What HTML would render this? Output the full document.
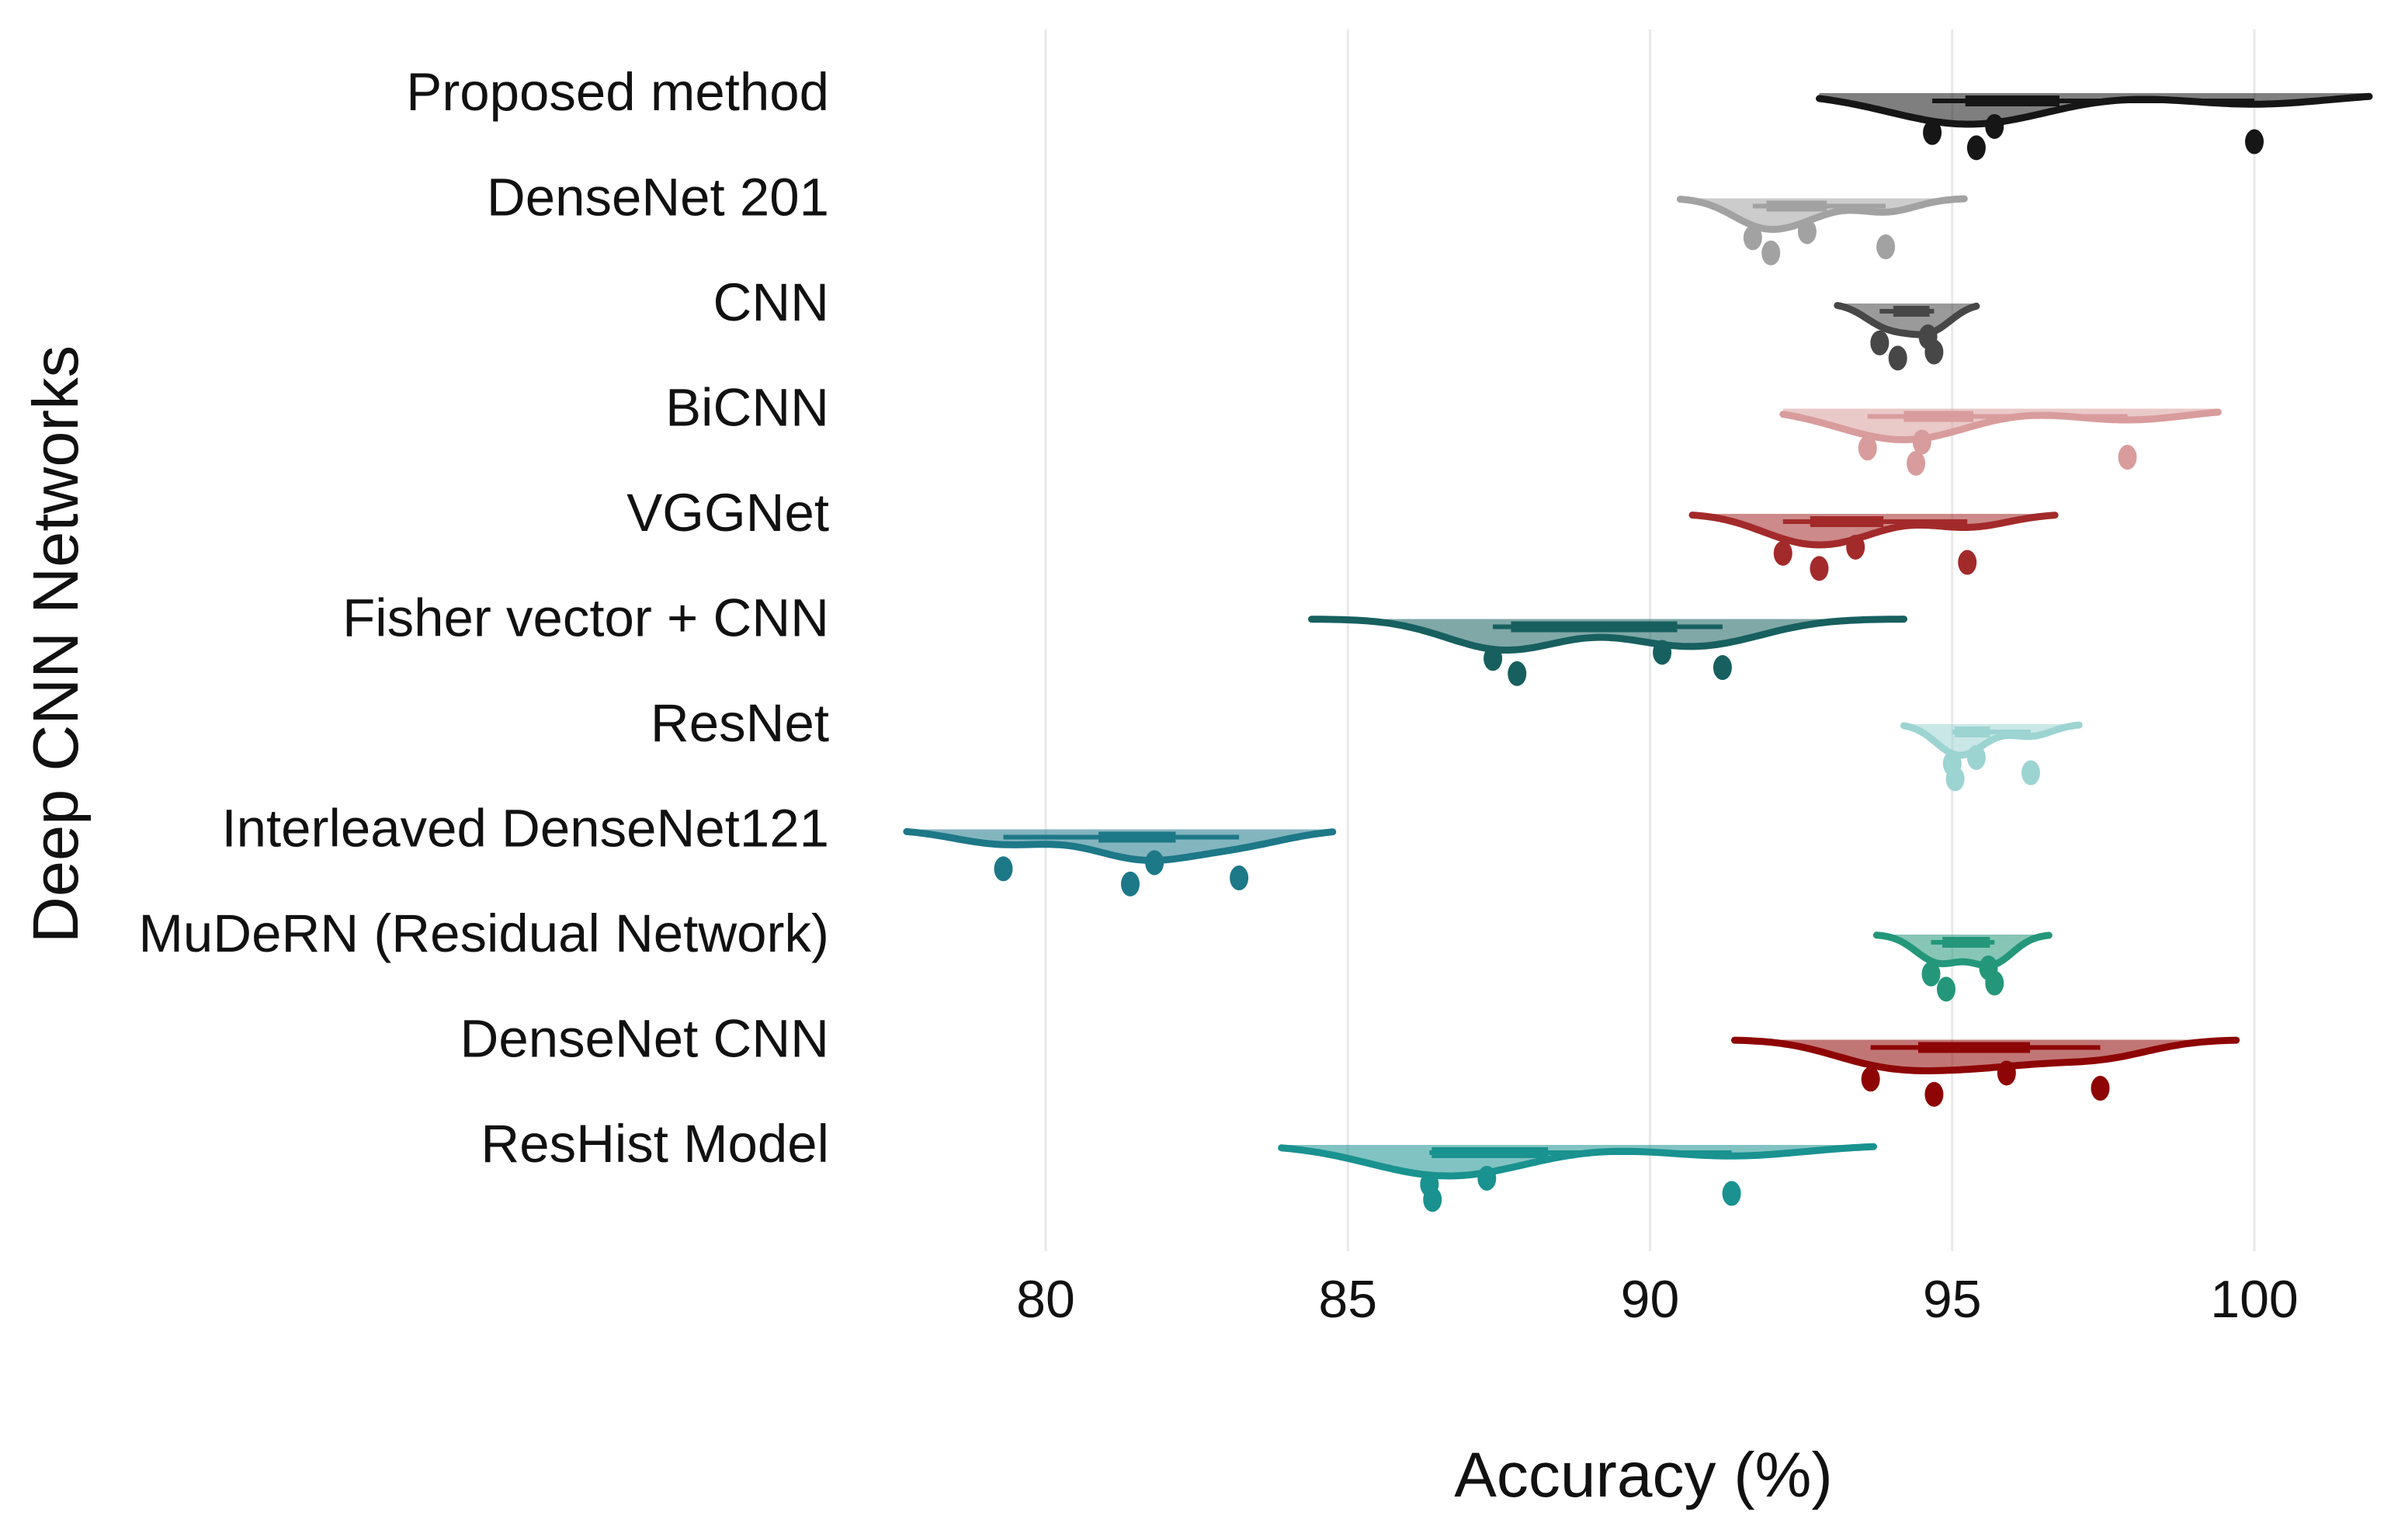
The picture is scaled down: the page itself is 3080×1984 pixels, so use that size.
<!DOCTYPE html>
<html><head><meta charset="utf-8"><style>
html,body{margin:0;padding:0;background:#fff}
svg{display:block}
text{font-family:"Liberation Sans",sans-serif;fill:#111}
</style></head><body>
<svg id="chart" width="3080" height="1984" viewBox="0 0 3080 1984" xmlns="http://www.w3.org/2000/svg">
<g id="grid"></g>
<g id="rows"></g>
<g id="ticks"></g>
<text x="2117" y="1928" font-size="82" text-anchor="middle">Accuracy (%)</text>
<text transform="translate(100,830) rotate(-90)" font-size="83" text-anchor="middle">Deep CNN Networks</text>
</svg>
<script>
const categories = ["Proposed method","DenseNet 201","CNN","BiCNN","VGGNet","Fisher vector + CNN","ResNet","Interleaved DenseNet121","MuDeRN (Residual Network)","DenseNet CNN","ResHist Model"];
const accuracyValues = [
  [94.67,95.4,95.7,100.0],
  [91.7,92.0,92.6,93.9],
  [93.8,94.1,94.6,94.7],
  [93.6,94.4,94.5,97.9],
  [92.2,92.8,93.4,95.25],
  [87.4,87.8,90.2,91.2],
  [95.0,95.05,95.4,96.3],
  [79.3,81.4,81.8,83.2],
  [94.65,94.9,95.6,95.7],
  [93.65,94.7,95.9,97.45],
  [86.35,86.4,87.3,91.35]
];
const densityMin = [92.8,90.5,93.1,92.2,90.7,84.4,94.2,77.7,93.75,91.4,83.9];
const densityMax = [101.9,95.2,95.4,99.4,96.7,94.2,97.1,84.75,96.6,99.7,93.7];
const colors = ["#161616","#a2a2a2","#474747","#d99c9c","#a32a2a","#17605f","#9cd4d2","#1d7888","#24977a","#8e0505","#199290"];
const tickValues = [80,85,90,95,100];
const tickLabels = ["80","85","90","95","100"];

const NS="http://www.w3.org/2000/svg";
const xScale = v => 1347 + (v-80)*77.85;
const rowY = i => 120 + i*135.5;
function mk(tag,attrs,parent){const e=document.createElementNS(NS,tag);for(const k in attrs)e.setAttribute(k,attrs[k]);parent.appendChild(e);return e;}
const grid=document.getElementById('grid'), rows=document.getElementById('rows'), ticks=document.getElementById('ticks');

tickValues.forEach((t,i)=>{
  const l=mk('line',{x1:xScale(t),x2:xScale(t),y1:38,y2:1612,stroke:'#e9e9e9','stroke-width':3},grid);
  
  
  const tx=mk('text',{x:xScale(t),y:1697,'font-size':68,'text-anchor':'middle'},ticks);
  tx.textContent=tickLabels[i];
  
  
});

const jitter=[30,40,26,36];
categories.forEach((cat,i)=>{
  const vals=accuracyValues[i], col=colors[i], y0=rowY(i);
  const g=mk('g',{},rows);
  
  
  const lab=mk('text',{x:1068,y:y0+22,'font-size':69,'text-anchor':'end'},g);
  lab.textContent=cat;
  
  
  const n=vals.length, mean=vals.reduce((a,b)=>a+b,0)/n;
  const sd=Math.sqrt(vals.reduce((a,b)=>a+(b-mean)*(b-mean),0)/(n-1));
  const s=[...vals].sort((a,b)=>a-b);
  const bw=Math.max(0.35,0.9*sd*Math.pow(n,-0.2)*0.75);
  const lo=densityMin[i], hi=densityMax[i];
  const pts=[];let mx=0;
  for(let k=0;k<=120;k++){const x=lo+(hi-lo)*k/120;let d=0;vals.forEach(v=>{d+=Math.exp(-0.5*((x-v)/bw)**2);});pts.push([x,d]);if(d>mx)mx=d;}
  const depth=40;
  let dp='M'+xScale(lo)+','+y0;
  pts.forEach(p=>{dp+=' L'+xScale(p[0]).toFixed(1)+','+(y0+p[1]/mx*depth).toFixed(1);});
  const area=mk('path',{d:dp+' L'+xScale(hi)+','+y0+' Z',fill:col,'fill-opacity':0.55,stroke:'none'},g);
  
  
  let lp='';pts.forEach((p,k)=>{lp+=(k?' L':'M')+xScale(p[0]).toFixed(1)+','+(y0+p[1]/mx*depth).toFixed(1);});
  const line=mk('path',{d:lp,fill:'none',stroke:col,'stroke-width':9,'stroke-linecap':'round'},g);
  
  
  const q1=s[0]+(s[1]-s[0])*0.75, q3=s[2]+(s[3]-s[2])*0.25;
  const bar=mk('line',{x1:xScale(s[0]),x2:xScale(s[n-1]),y1:y0+10,y2:y0+10,stroke:col,'stroke-width':6},g);
  
  
  const box=mk('line',{x1:xScale(q1),x2:xScale(q3),y1:y0+10,y2:y0+10,stroke:col,'stroke-width':14},g);
  
  
  vals.forEach((v,k)=>{
    const c=mk('ellipse',{cx:xScale(v),cy:y0+jitter[k]*1.96-8,rx:12,ry:16,fill:col},g);
    
    
  });
});
</script>
</body></html>
